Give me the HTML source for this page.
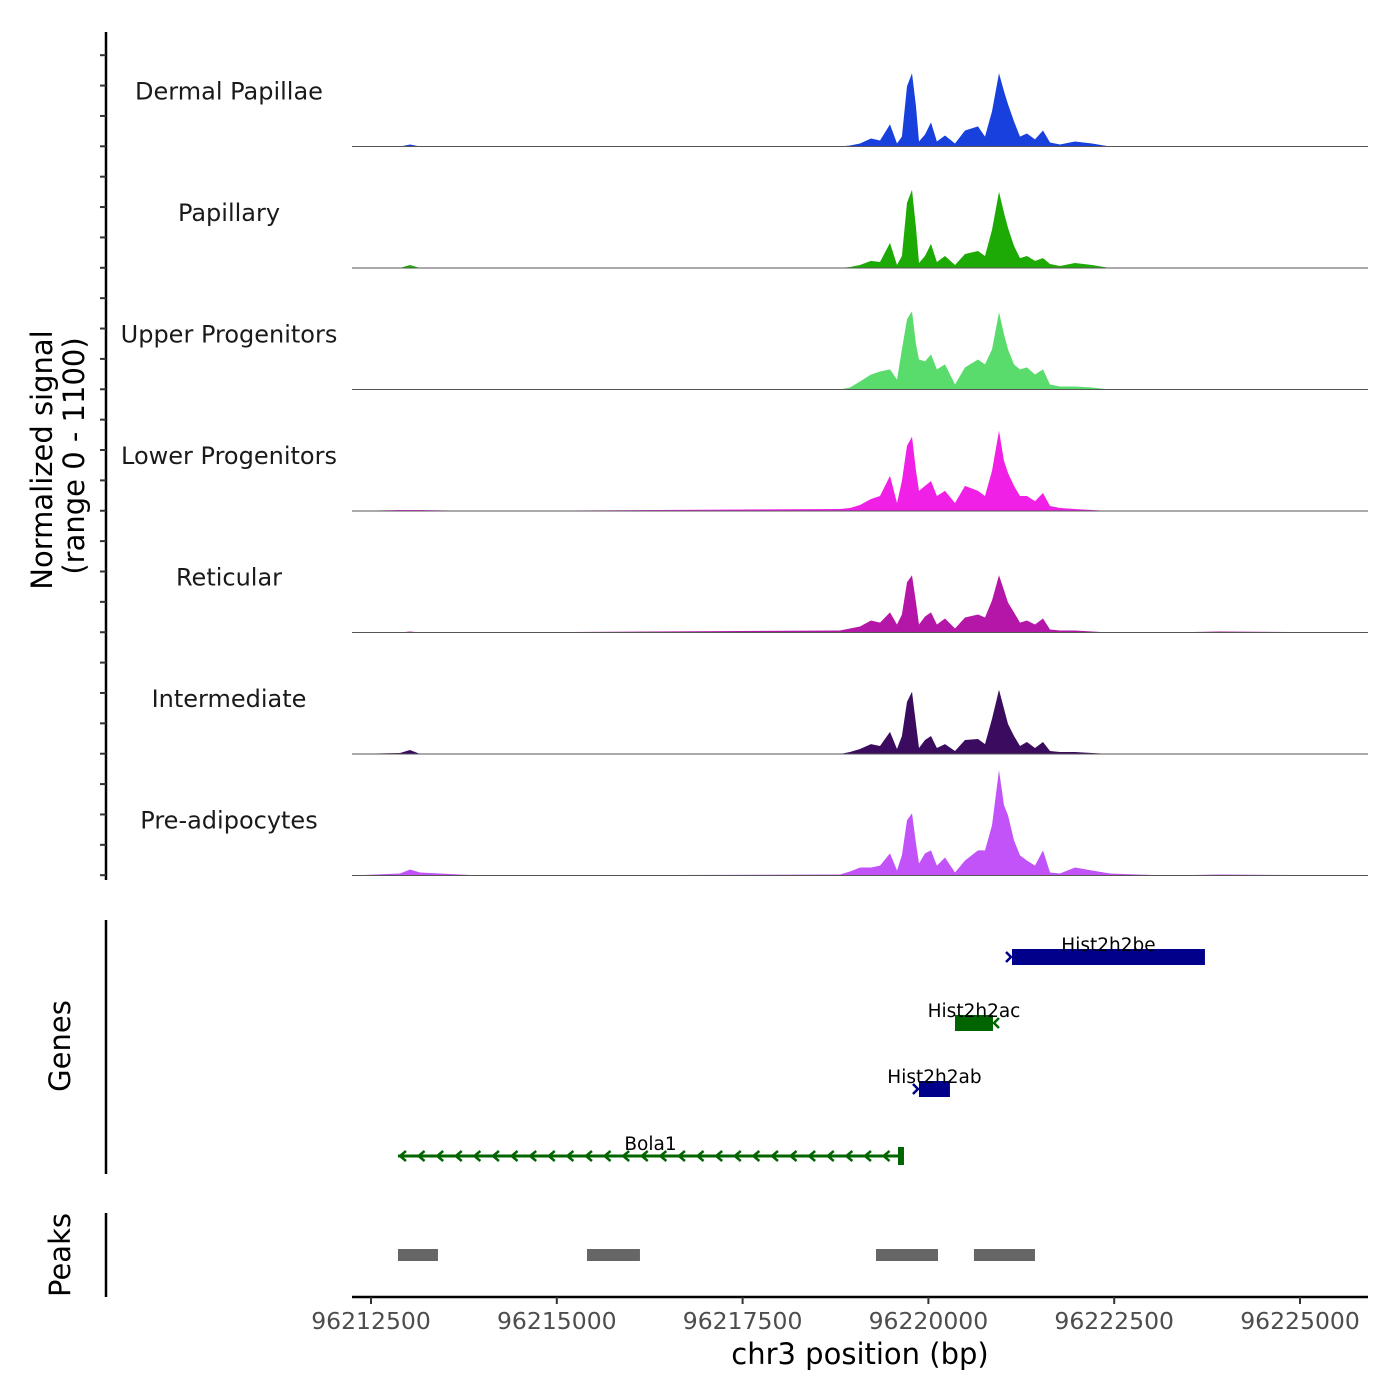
<!DOCTYPE html>
<html><head><meta charset="utf-8"><style>
html,body{margin:0;padding:0;background:#fff;}
svg{display:block;font-family:"DejaVu Sans","Liberation Sans",sans-serif;}
</style></head><body>
<svg id="chart" width="1400" height="1400" viewBox="0 0 1400 1400" xmlns="http://www.w3.org/2000/svg"></svg>
<script>
const positions = [96212244,96212890,96213025,96213160,96213967,96218810,96218945,96219080,96219227,96219349,96219483,96219577,96219644,96219712,96219779,96219833,96219873,96219954,96220035,96220115,96220223,96220358,96220492,96220667,96220761,96220856,96220950,96221017,96221071,96221152,96221232,96221326,96221434,96221542,96221636,96221770,96221972,96222201,96222443,96223200,96223923,96225915];
const trackNames = ["Dermal Papillae","Papillary","Upper Progenitors","Lower Progenitors","Reticular","Intermediate","Pre-adipocytes"];
const trackColors = ["#1740DC","#1EAA05","#5ADC6C","#F020E6","#B416A8","#3A0B5E","#C153F8"];
const dermalValues = [0,0,18,0,0,0,9,27,72,54,200,27,90,545,663,363,45,109,218,45,100,27,145,182,90,318,663,500,382,227,90,118,64,145,36,18,45,27,0,0,0,0];
const papillaryValues = [0,0,27,0,0,0,9,27,64,54,227,27,109,590,709,363,45,109,218,54,109,27,127,154,109,345,690,500,363,200,90,109,64,90,36,18,45,27,0,0,0,0];
const upperValues = [0,0,0,0,0,0,18,72,136,163,182,90,363,636,709,409,272,254,318,182,227,45,200,272,227,363,700,500,363,227,182,200,136,182,45,27,27,18,0,0,0,0];
const lowerValues = [0,9,9,9,0,18,27,54,109,136,318,72,272,590,672,363,182,227,272,136,182,72,227,182,136,363,727,454,345,227,136,136,90,163,45,27,18,9,0,0,0,0];
const reticularValues = [0,0,9,0,0,18,36,54,109,90,182,72,163,454,518,272,72,145,182,72,127,36,136,163,136,290,518,382,272,182,90,109,72,127,27,18,18,9,0,0,9,0];
const intermediateValues = [0,9,36,0,0,0,18,45,90,72,200,45,163,472,563,272,54,127,163,54,90,27,127,136,90,318,581,409,272,163,72,109,54,109,27,18,18,9,0,0,0,0];
const preadipValues = [0,18,54,27,0,9,36,72,72,90,200,45,182,500,563,290,109,200,227,90,163,27,136,227,227,454,954,636,545,318,182,136,90,227,27,18,72,45,18,0,9,0];
const trackValues = [dermalValues,papillaryValues,upperValues,lowerValues,reticularValues,intermediateValues,preadipValues];
const xTicks = [96212500,96215000,96217500,96220000,96222500,96225000];
const xTickLabels = ["96212500","96215000","96217500","96220000","96222500","96225000"];
const geneNames = ["Hist2h2be","Hist2h2ac","Hist2h2ab","Bola1"];
const geneStarts = [96221125,96220358,96219873,96212863];
const geneEnds = [96223721,96220869,96220290,96219658];
const geneStrands = ["+","-","+","-"];
const peakStarts = [96212863,96215406,96219295,96220613];
const peakEnds = [96213401,96216119,96220129,96221434];

const NS="http://www.w3.org/2000/svg";
const svg=document.getElementById('chart');
function mk(tag,attrs,parent){const e=document.createElementNS(NS,tag);for(const k in attrs)e.setAttribute(k,attrs[k]);(parent||svg).appendChild(e);return e;}
const X0=352,X1=1368;
function xs(v){return 371+(v-96212500)*(929/12500);}
const trackTop=25, trackH=121.5, yMax=1100;
function ys(i,v){const base=trackTop+(i+1)*trackH;return base-v/yMax*trackH;}

for(let i=0;i<7;i++){
  const g=mk('g',{});
  
  
  const vals=trackValues[i];
  const base=ys(i,0);
  let d='M'+X0+','+base;
  for(let j=0;j<positions.length;j++){let x=Math.max(X0,Math.min(X1,xs(positions[j])));d+=' L'+x.toFixed(1)+','+ys(i,vals[j]).toFixed(1);}
  d+=' L'+X1+','+base+' Z';
  const p=mk('path',{d:d,fill:trackColors[i],stroke:'none'},g);
  
  
  const bl=mk('line',{x1:X0,x2:X1,y1:base,y2:base,stroke:'#555','stroke-width':1},g);
  
  
  const t=mk('text',{x:229,y:base-47,'text-anchor':'middle','font-size':24,fill:'#1a1a1a'},g);
  t.textContent=trackNames[i];
  
  
}
const ya=mk('line',{x1:106,x2:106,y1:32,y2:880,stroke:'#000','stroke-width':2.5});


for(let y=55.2;y<=880;y+=30.37){const tk=mk('line',{x1:100,x2:106,y1:y,y2:y,stroke:'#333','stroke-width':2});}
const yt=mk('text',{transform:'translate(52,460) rotate(-90)','text-anchor':'middle','font-size':29,fill:'#000'});


yt.textContent='Normalized signal';
const yt2=mk('text',{transform:'translate(84,456) rotate(-90)','text-anchor':'middle','font-size':29,fill:'#000'});


yt2.textContent='(range 0 - 1100)';

const ga=mk('line',{x1:106,x2:106,y1:920,y2:1174,stroke:'#000','stroke-width':2.5});


const gt=mk('text',{transform:'translate(70,1046) rotate(-90)','text-anchor':'middle','font-size':29,fill:'#000'});


gt.textContent='Genes';
const geneRowY=[957,1023,1089,1156];
for(let i=0;i<geneNames.length;i++){
  const g=mk('g',{});
  
  
  const x1=xs(geneStarts[i]),x2=xs(geneEnds[i]),y=geneRowY[i];
  const col=geneStrands[i]==='+'?'#00008B':'#006400';
  if(geneNames[i]==='Bola1'){
    mk('line',{x1:x1,x2:x2,y1:y,y2:y,stroke:col,'stroke-width':3},g);
    for(let x=x1+2;x<x2-5;x+=18.6){mk('path',{d:'M'+(x+6)+','+(y-5)+' L'+x+','+y+' L'+(x+6)+','+(y+5),fill:'none',stroke:col,'stroke-width':2.5},g);}
    mk('rect',{x:x2-5,y:y-9,width:6,height:18,fill:col},g);
  } else {
    mk('rect',{x:x1,y:y-8,width:x2-x1,height:16,fill:col},g);
    const ax=geneStrands[i]==='+'?x1-3:x2+3;
    const dir=geneStrands[i]==='+'?1:-1;
    mk('path',{d:'M'+(ax-3*dir)+','+(y-5)+' L'+(ax+2*dir)+','+y+' L'+(ax-3*dir)+','+(y+5),fill:'none',stroke:col,'stroke-width':2.5},g);
  }
  const lt=mk('text',{x:(x1+x2)/2,y:y-6,'text-anchor':'middle','font-size':18.5,fill:'#000'},g);
  lt.textContent=geneNames[i];
}
const pa=mk('line',{x1:106,x2:106,y1:1213,y2:1297,stroke:'#000','stroke-width':2.5});


const pt=mk('text',{transform:'translate(70,1255) rotate(-90)','text-anchor':'middle','font-size':29,fill:'#000'});


pt.textContent='Peaks';
for(let i=0;i<peakStarts.length;i++){
  const r=mk('rect',{x:xs(peakStarts[i]),y:1249,width:xs(peakEnds[i])-xs(peakStarts[i]),height:12,fill:'#666'});
  
  
}
const xa=mk('line',{x1:X0,x2:X1,y1:1297,y2:1297,stroke:'#000','stroke-width':2.5});


for(let i=0;i<xTicks.length;i++){
  const x=xs(xTicks[i]);
  const tk=mk('line',{x1:x,x2:x,y1:1297,y2:1304,stroke:'#333','stroke-width':2});
  
  
  const tl=mk('text',{x:x,y:1329,'text-anchor':'middle','font-size':23.5,fill:'#4d4d4d'});
  
  
  tl.textContent=xTickLabels[i];
}
const xt=mk('text',{x:860,y:1364,'text-anchor':'middle','font-size':29,fill:'#000'});


xt.textContent='chr3 position (bp)';
</script>
</body></html>
